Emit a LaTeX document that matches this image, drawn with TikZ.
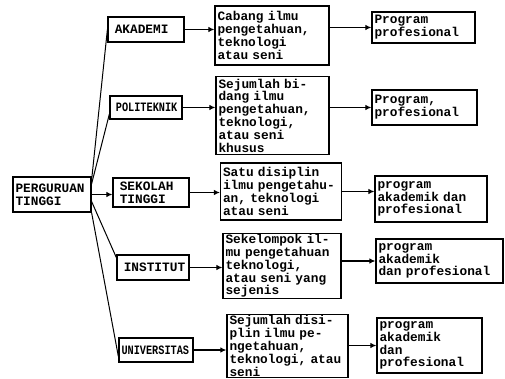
\documentclass[tikz,border=0pt]{standalone}
\usepackage{fontspec}
\usepackage{graphicx}
\newfontfamily\dotfont{Liberation Mono}
\usetikzlibrary{arrows.meta}
\tikzset{
    boxU/.style args={#1 #2}{
        draw, rectangle, line width=1.2pt, align=left,
        inner xsep=2.5pt, inner ysep=1pt,
        text width=#1pt, minimum height=#2pt
    },
    boxU/.default={70 25}
}
\tikzset{
    linkA/.style={line width=1.1pt, -{Latex[length=6pt,width=5.5pt]}},
    linkL/.style={line width=1pt}
}
\newcommand{\narrowtxt}[1]{\scalebox{0.8}[1]{#1}}

\begin{document}
\begin{tikzpicture}[x=1pt, y=-1pt]
    \tikzstyle{every node}=[font=\dotfont\bfseries\fontsize{12.8}{12.8}\selectfont];
    \useasboundingbox (0,0) rectangle (505,379);
    \coordinate (p0) at (52,194.5);
    \coordinate (k1) at (146,29.5);
    \coordinate (k2) at (146,107.5);
    \coordinate (k3) at (151,192.5);
    \coordinate (k4) at (153,267.5);
    \coordinate (k5) at (156,350);
    \coordinate (d1) at (272,35.5);
    \coordinate (d2) at (272.5,115.5);
    \coordinate (d3) at (281,191.5);
    \coordinate (d4) at (282,266);
    \coordinate (d5) at (287.5,346);
    \coordinate (r1) at (423.5,27.5);
    \coordinate (r2) at (424.5,107.5);
    \coordinate (r3) at (431,199);
    \coordinate (r4) at (439.5,261);
    \coordinate (r5) at (429.5,345.5);
    % jenis perguruan tinggi
    \node[boxU={73 35}] (pt) at (p0) {PERGURUAN\\TINGGI};
    \node[boxU={71 25}] (akad) at (k1) {\ AKADEMI};
    \node[boxU={67 23}] (poli) at (k2) {\narrowtxt{\ POLITEKNIK}};
    \node[boxU={71 29}] (skt) at (k3) {\ SEKOLAH\\\ TINGGI};
    \node[boxU={67 25}] (inst) at (k4) {\ INSTITUT};
    \node[boxU={69 24}] (univ) at (k5) {\narrowtxt{UNIVERSITAS}};
    % bidang
    \node[boxU={109 59}] (bd1) at (d1) {Cabang ilmu\\pengetahuan,\\teknologi\\atau seni};
    \node[boxU={108 78}] (bd2) at (d2) {Sejumlah bi-\\dang ilmu\\pengetahuan,\\teknologi,\\atau seni\\khusus};
    \node[boxU={116 57}] (bd3) at (d3) {Satu disiplin\\ilmu pengetahu-\\an, teknologi\\atau seni};
    \node[boxU={113 64}] (bd4) at (d4) {Sekelompok il-\\mu pengetahuan\\teknologi,\\atau seni yang\\sejenis};
    \node[boxU={116 62}] (bd5) at (d5) {Sejumlah disi-\\plin ilmu pe-\\ngetahuan,\\teknologi, atau\\seni};
    % program
    \node[boxU={98 31}] (pg1) at (r1) {Program\\profesional};
    \node[boxU={100 35}] (pg2) at (r2) {Program,\\profesional};
    \node[boxU={107 46}] (pg3) at (r3) {program\\akademik dan\\profesional};
    \node[boxU={122 44}] (pg4) at (r4) {program\\akademik\\dan profesional};
    \node[boxU={100 55}] (pg5) at (r5) {program\\akademik\\dan\\profesional};
    \draw[linkL] (pt.20) -- (akad.west);
    \draw[linkL] (pt.15) -- (poli.190);
    \draw[linkA] (pt.east) -- (pt.east -| skt.west);
    \draw[linkL] (pt.-10) -- (inst.165);
    \draw[linkL] (pt.south east) -- (univ.190);
    \draw[linkA] (akad.east) -- (akad.east -| bd1.west);
    \draw[linkA] (poli.east) -- (poli.east -| bd2.west);
    \draw[linkA] (skt.east) -- (skt.east -| bd3.west);
    \draw[linkA] (inst.east) -- (inst.east -| bd4.west);
    \draw[linkA] (univ.east) -- (univ.east -| bd5.west);
    \draw[linkA] (bd1.east |- pg1.west) -- (pg1.west);
    \draw[linkA] (bd2.east |- pg2.west) -- (pg2.west);
    \draw[linkA] (bd3.east) -- (bd3.east -| pg3.west);
    \draw[linkA] (bd4.east |- pg4.west) -- (pg4.west);
    \draw[linkA] (bd5.east |- pg5.west) -- (pg5.west);
\end{tikzpicture}
\end{document}
